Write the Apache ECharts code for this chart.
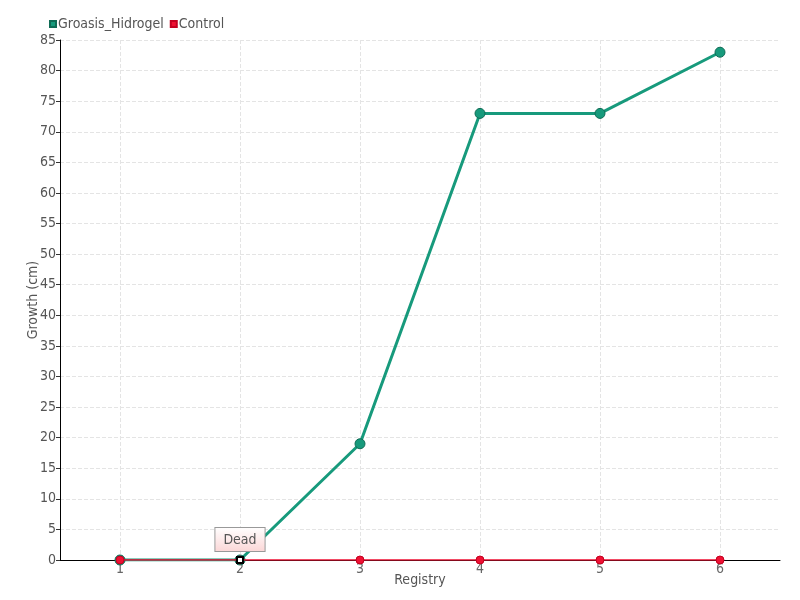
<!DOCTYPE html>
<html><head><meta charset="utf-8">
<script src="https://cdn.jsdelivr.net/npm/echarts@6/dist/echarts.min.js"></script>
<style>html,body{margin:0;padding:0;background:#fff}#c{width:800px;height:600px}</style>
</head><body><div id="c"></div>
<script>
const categories = ['1','2','3','4','5','6'];
const groasis = [0, 0, 19, 73, 73, 83];
const control = [0, 0, 0, 0, 0, 0];
const yTicks = {min: 0, max: 85, interval: 5};
const font = 'Liberation Sans Narrow, DejaVu Sans Condensed, DejaVu Sans';
const chart = echarts.init(document.getElementById('c'));
chart.setOption({
  animation: false,
  textStyle: {fontFamily: font},
  legend: {
    left: 44, top: 12, itemWidth: 6, itemHeight: 6, itemGap: 6,
    icon: 'rect',
    textStyle: {fontFamily: font, fontSize: 14, color: '#555', padding: [0,0,0,-3]},
    data: ['Groasis_Hidrogel', 'Control']
  },
  grid: {left: 60, right: 20, top: 40, bottom: 40},
  xAxis: {
    type: 'category', data: categories, boundaryGap: true,
    name: 'Registry', nameLocation: 'middle', nameGap: 13, nameMoveOverlap: false,
    nameTextStyle: {fontFamily: font, fontSize: 14, color: '#555'},
    axisLine: {lineStyle: {color: '#000'}},
    axisTick: {alignWithLabel: true, length: 5, lineStyle: {color: '#555'}},
    axisLabel: {margin: 2, fontFamily: font, fontSize: 14, color: '#666'},
    splitLine: {show: false}
  },
  yAxis: {
    type: 'value', min: yTicks.min, max: yTicks.max, interval: yTicks.interval,
    name: 'Growth (cm)', nameLocation: 'middle', nameGap: 20, nameMoveOverlap: false,
    nameTextStyle: {fontFamily: font, fontSize: 14, color: '#555'},
    axisLine: {show: true, lineStyle: {color: '#000'}},
    axisTick: {show: true, length: 4, lineStyle: {color: '#333'}},
    axisLabel: {margin: 4, fontFamily: font, fontSize: 14, color: '#555'},
    splitLine: {lineStyle: {type: 'dashed', color: '#e4e4e4'}}
  },
  series: [
    {
      name: 'Groasis_Hidrogel', type: 'line', data: groasis,
      symbol: 'circle', symbolSize: 10, z: 3,
      lineStyle: {width: 3, color: '#179a7c'},
      itemStyle: {color: '#179a7c', borderColor: '#0f6b55', borderWidth: 1},
      markLine: {
        silent: true, symbol: 'none', label: {show: false},
        lineStyle: {type: 'dashed', color: '#e4e4e4', width: 1},
        data: categories.map(c => ({xAxis: c})),
        z: 0
      }
    },
    {
      name: 'Control', type: 'line', data: control,
      symbol: 'circle', symbolSize: 8, z: 4,
      lineStyle: {width: 1.5, color: '#ee1133'},
      itemStyle: {color: '#ee1133', borderColor: '#c40020', borderWidth: 1},
      markPoint: {
        symbol: 'rect', symbolSize: 6,
        itemStyle: {color: '#fff', borderColor: '#000', borderWidth: 2},
        label: {
          show: true, position: 'top', distance: 5,
          formatter: 'Dead', fontFamily: font, fontSize: 14, color: '#555',
          backgroundColor: {type: 'linear', x: 0, y: 0, x2: 0, y2: 1,
            colorStops: [{offset: 0, color: '#fff'}, {offset: 1, color: '#fbd6d6'}]},
          borderColor: '#999', borderWidth: 1, padding: [5, 8, 4, 8]
        },
        data: [{coord: ['2', 0]}]
      }
    }
  ]
});
</script></body></html>
